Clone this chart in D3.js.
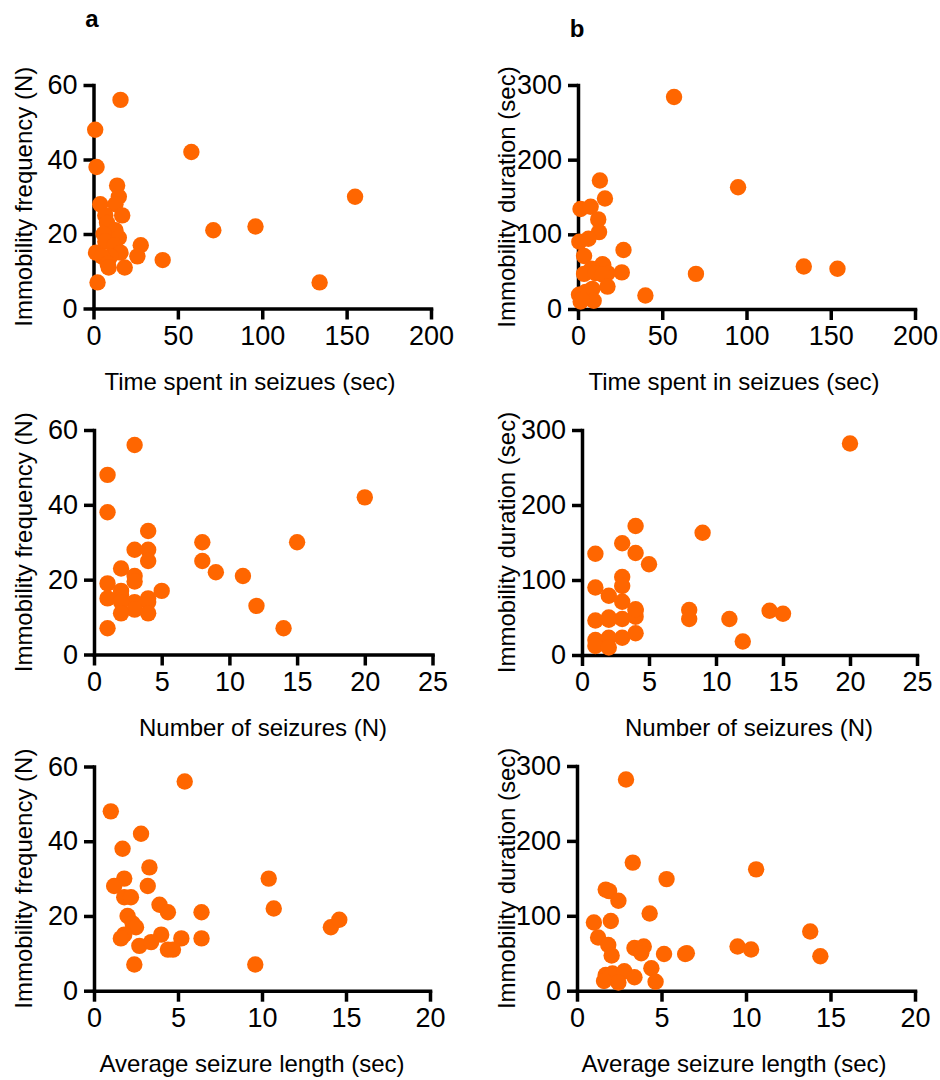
<!DOCTYPE html>
<html>
<head>
<meta charset="utf-8">
<script src="https://cdn.jsdelivr.net/npm/d3@7"></script>
<style>
  body { margin: 0; background: #fff; }
  svg text { font-family: "Liberation Sans", Arial, Helvetica, sans-serif; fill: #000; }
</style>
</head>
<body>
<svg id="chart" width="940" height="1080"></svg>
<script>
// ---- data: one x/y pair of arrays per panel ----
// a, row 1: time spent in seizures (sec) vs immobility frequency (N)
const timeVsFreqX = [16, 1, 58, 1.8, 14, 155, 15, 4, 13, 17, 7, 8, 96, 71, 13, 6, 15, 7, 28, 12.5, 1.5, 16, 26, 10, 5, 41, 8.4, 9, 18.5, 2.4, 134];
const timeVsFreqY = [56, 48, 42, 38, 33, 30, 30, 28, 28, 25, 25, 23, 22, 21, 21, 20, 19, 18, 17, 17, 15, 15, 14, 14, 14, 13, 12, 11, 11, 7, 7];

// a, row 2: number of seizures (N) vs immobility frequency (N)
const countVsFreqX = [3, 1, 1, 20, 4, 8, 15, 3, 4, 4, 8, 2, 9, 11, 3, 3, 1, 5, 2, 2, 1, 4, 3, 4, 2, 3, 2, 4, 12, 14, 1];
const countVsFreqY = [56, 48, 38, 42, 33, 30, 30, 28, 28, 25, 25, 23, 22, 21, 21, 19.5, 19, 17, 17, 16, 15, 15, 14, 14, 14, 12, 11, 11, 13, 7, 7];

// a, row 3: average seizure length (sec) vs immobility frequency (N)
const lengthVsFreqX = [5.4, 1.0, 2.8, 1.7, 3.3, 1.8, 10.4, 1.2, 3.2, 1.8, 2.2, 3.9, 4.4, 6.4, 10.7, 2.0, 2.3, 2.5, 14.1, 14.6, 1.8, 1.6, 4.0, 5.2, 6.4, 2.7, 3.4, 4.4, 4.7, 2.4, 9.6];
const lengthVsFreqY = [56, 48, 42, 38, 33, 30, 30, 28, 28, 25, 25, 23, 21, 21, 22, 20, 18, 17, 17, 19, 15, 14, 15, 14, 14, 12, 13, 11, 11, 7, 7];

// b, row 1: time spent in seizures (sec) vs immobility duration (sec)
const timeVsDurX = [57, 95, 13, 16, 1.5, 7.5, 12, 12.5, 0.8, 6.2, 27, 3.6, 70, 134, 154, 40, 26, 15, 14.5, 17.5, 8, 3.6, 10.4, 14.6, 17.5, 8.5, 0.6, 4.6, 1.6, 9.3, 2.4];
const timeVsDurY = [284, 163, 172, 148, 134, 137, 120, 103, 90, 94, 79, 71, 47, 57, 54, 18, 49, 59, 60, 48, 54, 47, 48, 46, 30, 27, 19, 23, 10, 11, 12];

// b, row 2: number of seizures (N) vs immobility duration (sec)
const countVsDurX = [20, 4, 9, 3, 1, 4, 5, 3, 3, 1, 2, 3, 4, 4, 3, 2, 1, 8, 8, 11, 14, 15, 12, 4, 3, 2, 1, 1, 2, 4, 2];
const countVsDurY = [282, 172, 163, 149, 135, 136, 121, 104, 92, 90, 79, 71, 59, 51, 48, 50, 46, 60, 48, 48, 59, 55, 18, 29, 23, 23, 20, 12, 10, 61, 47];

// b, row 3: average seizure length (sec) vs immobility duration (sec)
const lengthVsDurX = [2.9, 3.3, 10.6, 5.3, 1.7, 1.9, 2.45, 4.3, 1.0, 2.0, 1.25, 13.8, 14.4, 9.5, 10.3, 6.4, 6.5, 5.15, 3.4, 3.95, 3.8, 1.85, 2.05, 4.4, 4.65, 1.7, 2.1, 2.8, 3.4, 2.45, 1.6];
const lengthVsDurY = [282, 171, 162, 149, 135, 133, 120, 103, 91, 93, 71, 79, 46, 59, 55, 49, 50, 49, 57, 59, 50, 61, 47, 30, 12, 21, 23, 26, 18, 11, 13];

// ---- tick values ----
const timeTicks = [0, 50, 100, 150, 200];
const countTicks = [0, 5, 10, 15, 20, 25];
const lengthTicks = [0, 5, 10, 15, 20];
const freqTicks = [0, 20, 40, 60];
const durTicks = [0, 100, 200, 300];

// ---- titles ----
const panelLetters = ["a", "b"];
const freqTitle = "Immobility frequency (N)";
const durTitle = "Immobility duration (sec)";
const timeTitle = "Time spent in seizues (sec)";
const countTitle = "Number of seizures (N)";
const lengthTitle = "Average seizure length (sec)";

const dotColor = "#ff6600";
const svg = d3.select("#chart");

// Panel frames (pixel boxes) and what each one plots
const panels = [
  { xs: timeVsFreqX,   ys: timeVsFreqY,   xTicks: timeTicks,   yTicks: freqTicks, xTitle: timeTitle,   yTitle: freqTitle,
    box: { l: 93.5, r: 431, t: 85, b: 308.5 }, xTitleX: 250, yTitleX: 24 },
  { xs: timeVsDurX,    ys: timeVsDurY,    xTicks: timeTicks,   yTicks: durTicks,  xTitle: timeTitle,   yTitle: durTitle,
    box: { l: 578, r: 915, t: 85, b: 309 }, xTitleX: 734, yTitleX: 507 },
  { xs: countVsFreqX,  ys: countVsFreqY,  xTicks: countTicks,  yTicks: freqTicks, xTitle: countTitle,  yTitle: freqTitle,
    box: { l: 94, r: 432.5, t: 430, b: 654.5 }, xTitleX: 263, yTitleX: 24 },
  { xs: countVsDurX,   ys: countVsDurY,   xTicks: countTicks,  yTicks: durTicks,  xTitle: countTitle,  yTitle: durTitle,
    box: { l: 582, r: 917, t: 430, b: 655 }, xTitleX: 749, yTitleX: 507 },
  { xs: lengthVsFreqX, ys: lengthVsFreqY, xTicks: lengthTicks, yTicks: freqTicks, xTitle: lengthTitle, yTitle: freqTitle,
    box: { l: 94, r: 430, t: 766.5, b: 990.7 }, xTitleX: 252, yTitleX: 24 },
  { xs: lengthVsDurX,  ys: lengthVsDurY,  xTicks: lengthTicks, yTicks: durTicks,  xTitle: lengthTitle, yTitle: durTitle,
    box: { l: 577, r: 915, t: 766, b: 990.7 }, xTitleX: 734, yTitleX: 507 }
];

function styleAxis(g) {
  g.select(".domain")
    .attr("stroke", "#000")
    .attr("stroke-width", 3.5)
    .attr("stroke-linecap", "square");
  g.selectAll(".tick line")
    .attr("stroke", "#000")
    .attr("stroke-width", 3.5);
  g.selectAll(".tick text")
    .attr("font-size", 27)
    .attr("fill", "#000");
}

panels.forEach(p => {
  const { l, r, t, b } = p.box;
  const x = d3.scaleLinear()
    .domain([p.xTicks[0], p.xTicks[p.xTicks.length - 1]])
    .range([l, r]);
  const y = d3.scaleLinear()
    .domain([p.yTicks[0], p.yTicks[p.yTicks.length - 1]])
    .range([b, t]);

  const g = svg.append("g");

  g.append("g")
    .attr("transform", `translate(0,${b})`)
    .call(d3.axisBottom(x).tickValues(p.xTicks).tickSize(11).tickSizeOuter(0).tickPadding(6).tickFormat(d3.format("d")))
    .call(styleAxis);

  g.append("g")
    .attr("transform", `translate(${l},0)`)
    .call(d3.axisLeft(y).tickValues(p.yTicks).tickSize(10).tickSizeOuter(0).tickPadding(6).tickFormat(d3.format("d")))
    .call(styleAxis);

  // axis titles
  g.append("text")
    .attr("x", p.xTitleX)
    .attr("y", b + 81)
    .attr("text-anchor", "middle")
    .attr("font-size", 24)
    .text(p.xTitle);

  g.append("text")
    .attr("transform", `translate(${p.yTitleX},${(t + b) / 2}) rotate(-90)`)
    .attr("text-anchor", "middle")
    .attr("dy", "0.35em")
    .attr("font-size", 24)
    .text(p.yTitle);

  // points
  g.append("g")
    .selectAll("circle")
    .data(p.xs.map((v, i) => [v, p.ys[i]]))
    .join("circle")
    .attr("cx", d => x(d[0]))
    .attr("cy", d => y(d[1]))
    .attr("r", 8.2)
    .attr("fill", dotColor);
});

// column letters
svg.append("text").attr("x", 92).attr("y", 27).attr("text-anchor", "middle")
  .attr("font-size", 24).attr("font-weight", "bold").text(panelLetters[0]);
svg.append("text").attr("x", 577).attr("y", 37).attr("text-anchor", "middle")
  .attr("font-size", 24).attr("font-weight", "bold").text(panelLetters[1]);
</script>
</body>
</html>
